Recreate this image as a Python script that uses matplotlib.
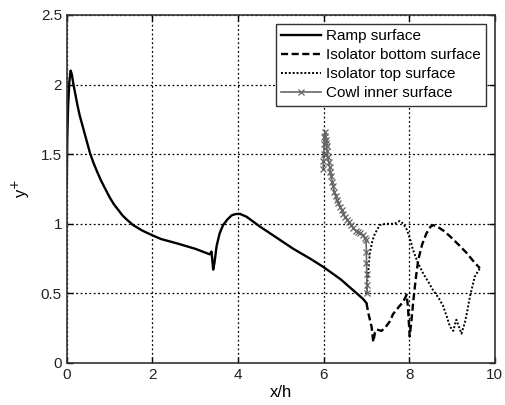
import matplotlib
matplotlib.use("Agg")
import matplotlib.pyplot as plt

plt.rcParams['font.family'] = ['Liberation Sans', 'DejaVu Sans']

ramp_x = [0.0, 0.01, 0.03, 0.06, 0.09, 0.12, 0.15, 0.2, 0.25, 0.3, 0.38, 0.46, 0.54, 0.62, 0.7,
          0.8, 0.9, 1.0, 1.1, 1.2, 1.3, 1.4, 1.55, 1.75, 1.94, 2.2, 2.56, 3.0, 3.34, 3.38, 3.42,
          3.45, 3.5, 3.57, 3.65, 3.75, 3.85, 3.95, 4.05, 4.2, 4.51, 4.9, 5.29, 5.68, 5.99, 6.4,
          6.92, 7.0]
ramp_y = [1.28, 1.6, 1.84, 2.02, 2.1, 2.07, 2.01, 1.93, 1.85, 1.78, 1.69, 1.6, 1.51, 1.44, 1.38,
          1.31, 1.25, 1.19, 1.14, 1.1, 1.06, 1.03, 0.99, 0.953, 0.925, 0.89, 0.86, 0.82, 0.78, 0.8,
          0.67, 0.72, 0.84, 0.93, 0.99, 1.03, 1.06, 1.07, 1.07, 1.05, 0.98, 0.9, 0.82, 0.75, 0.69,
          0.6, 0.46, 0.43]

bot_x = [7.0, 7.05, 7.12, 7.16, 7.2, 7.24, 7.35, 7.43, 7.55, 7.62, 7.75, 7.86, 7.94, 7.97, 8.01,
         8.05, 8.09, 8.15, 8.21, 8.3, 8.4, 8.5, 8.56, 8.65, 8.8, 8.95, 9.15, 9.34, 9.5, 9.65]
bot_y = [0.43, 0.35, 0.26, 0.15, 0.22, 0.24, 0.23, 0.25, 0.3, 0.35, 0.4, 0.44, 0.49, 0.4, 0.19,
         0.3, 0.43, 0.6, 0.74, 0.85, 0.93, 0.98, 0.99, 0.98, 0.95, 0.91, 0.85, 0.79, 0.73, 0.68]

top_x = [7.0, 7.04, 7.08, 7.14, 7.2, 7.31, 7.45, 7.66, 7.78, 7.86, 7.94, 8.02, 8.09, 8.2, 8.33,
         8.45, 8.56, 8.68, 8.79, 8.88, 8.95, 9.03, 9.07, 9.10, 9.16, 9.22, 9.26, 9.30, 9.36, 9.42,
         9.53, 9.65]
top_y = [0.5, 0.65, 0.79, 0.88, 0.93, 0.99, 1.0, 1.0, 1.02, 1.0, 0.96, 0.89, 0.81, 0.72, 0.64,
         0.58, 0.52, 0.47, 0.41, 0.33, 0.26, 0.23, 0.28, 0.31, 0.26, 0.21, 0.25, 0.29, 0.38, 0.48,
         0.62, 0.68]

cowl_x = [5.99, 5.995, 6.0, 6.01, 6.02, 6.03, 6.04, 6.05, 6.06, 6.07, 6.085, 6.1, 6.12, 6.14,
          6.16, 6.18, 6.2, 6.22, 6.25, 6.28, 6.31, 6.34, 6.38, 6.42, 6.46, 6.5, 6.55, 6.6, 6.65,
          6.69, 6.75, 6.8, 6.86, 6.92, 6.96, 6.99, 7.0, 7.0, 7.01, 7.01, 7.02]
cowl_y = [1.39, 1.45, 1.5, 1.57, 1.62, 1.66, 1.63, 1.6, 1.58, 1.56, 1.52, 1.48, 1.44, 1.41,
          1.37, 1.34, 1.3, 1.27, 1.23, 1.2, 1.17, 1.15, 1.12, 1.1, 1.07, 1.05, 1.03, 1.01, 0.99,
          0.97, 0.95, 0.94, 0.93, 0.92, 0.9, 0.88, 0.8, 0.72, 0.64, 0.56, 0.5]

labels = ["Ramp surface", "Isolator bottom surface", "Isolator top surface", "Cowl inner surface"]
xticks = [0, 2, 4, 6, 8, 10]
yticks = [0, 0.5, 1, 1.5, 2, 2.5]

fig = plt.figure(figsize=(5.06, 4.05), dpi=100)
ax = fig.add_axes([0.132, 0.104, 0.846, 0.859])

ax.plot(ramp_x, ramp_y, color='black', lw=1.7, ls='-', label=labels[0])
ax.plot(bot_x, bot_y, color='black', lw=1.7, ls=(0, (3, 1.5)), label=labels[1])
ax.plot(top_x, top_y, color='black', lw=1.4, ls=(0, (1, 1)), label=labels[2])
ax.plot(cowl_x, cowl_y, color='#666666', lw=1.2, ls='-', marker='x', markersize=4,
        markeredgewidth=0.9, label=labels[3])

ax.set_xlim(0, 10)
ax.set_ylim(0, 2.5)
ax.set_xticks(xticks)
ax.set_yticks(yticks)
ax.set_xticklabels([str(t) for t in xticks])
ax.set_yticklabels(['0', '0.5', '1', '1.5', '2', '2.5'])
ax.tick_params(direction='in', top=True, right=True, labelsize=11, length=4, width=1,
               labelcolor='#222222')
ax.grid(True, color='black', ls=(0, (1.5, 2)), lw=0.9)
for s in ax.spines.values():
    s.set_linewidth(1.2)
    s.set_color('#333333')

ax.set_xlabel('x/h', fontsize=12, labelpad=2)
ax.set_ylabel('y$^{+}$', fontsize=12, labelpad=6)

leg = ax.legend(loc='upper right', fontsize=11, frameon=True, fancybox=False, edgecolor='#333333',
                handlelength=2.6, handletextpad=0.3, borderpad=0.35, labelspacing=0.32,
                borderaxespad=0.6, framealpha=1)
leg.get_frame().set_linewidth(1.0)

fig.savefig('out.png', dpi=100, facecolor='white')
